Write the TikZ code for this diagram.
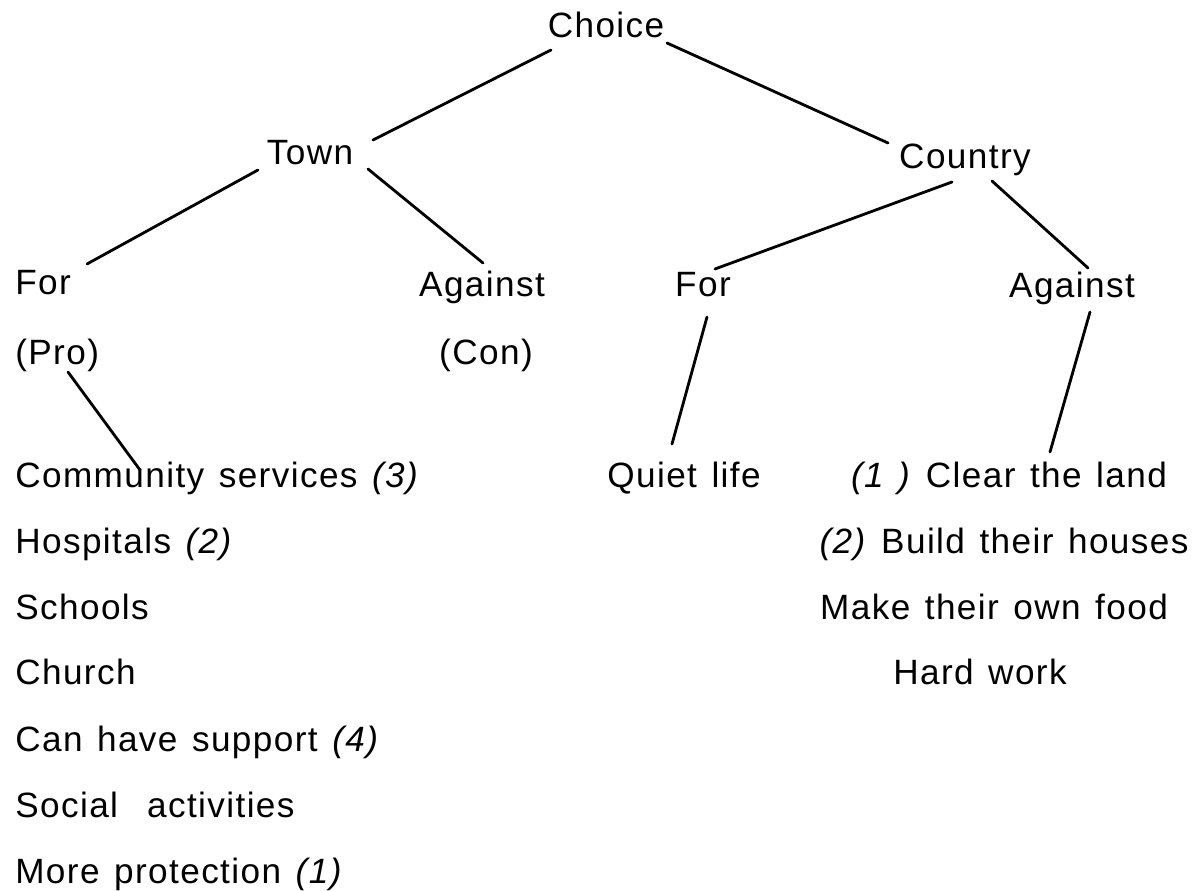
\documentclass[tikz,border=0pt]{standalone}
\usepackage{fontspec}
\setmainfont{Liberation Sans}[LetterSpace=4,WordSpace=1.3]
\usepackage{tikz}
\usetikzlibrary{calc}

\begin{document}
\begin{tikzpicture}[
    x=0.025cm, y=-0.025cm,
    word/.style={inner sep=0pt, anchor=base, font=\fontsize{25}{29}\selectfont},
    leftword/.style={word, anchor=base west},
    branch/.style={line width=2pt, line cap=round}
]
\useasboundingbox (0,0) rectangle (1198,891);

% Top of the tree
\node[word] (choice) at (606,38) {Choice};
\node[word] (town) at (310,165) {Town};
\node[word] (country) at (965,169) {Country};

% Town side
\node[leftword] (forT) at (15,295) {For};
\node[word] (againstT) at (482,297) {Against};
\node[leftword] (pro) at (15,365) {(Pro)};
\node[word] (con) at (486,365) {(Con)};

% Country side
\node[word] (forC) at (703,297) {For};
\node[word] (againstC) at (1072,298) {Against};

% Pro list
\node[leftword] (community) at (15,488) {Community services \textit{(3)}};
\node[leftword] (hospitals) at (15,554) {Hospitals \textit{(2)}};
\node[leftword] (schools) at (15,620) {Schools};
\node[leftword] (church) at (15,685) {Church};
\node[leftword] (support) at (15,751) {Can have support \textit{(4)}};
\node[leftword] (social) at (15,817) {Social \ activities};
\node[leftword] (protection) at (15,883) {More protection \textit{(1)}};

% Country lists
\node[word] (quiet) at (684,488) {Quiet life};
\node[word] (clear) at (1009,488) {\textit{(1 )} Clear the land};
\node[word] (build) at (1004,554) {\textit{(2)} Build their houses};
\node[word] (food) at (994,620) {Make their own food};
\node[word] (hard) at (980,685) {Hard work};

% Branches
\draw[branch] ($(choice.base)+(-55,12)$) -- ($(town.base)+(63,-25)$);
\draw[branch] ($(choice.base)+(61,5)$) -- ($(country.base)+(-77,-26)$);
\draw[branch] ($(town.base)+(-52,5)$) -- ($(forT.base west)+(72,-31)$);
\draw[branch] ($(town.base)+(58,4)$) -- ($(againstT.base)+(1,-34)$);
\draw[branch] ($(country.base)+(-13,13)$) -- ($(forC.base)+(12,-28)$);
\draw[branch] ($(country.base)+(27,12)$) -- ($(againstC.base)+(16,-30)$);
\draw[branch] ($(forC.base)+(4,20)$) -- ($(quiet.base)+(-12,-44)$);
\draw[branch] ($(againstC.base)+(18,14)$) -- ($(clear.base)+(41,-36)$);
\draw[branch] ($(pro.base west)+(53,7)$) -- ($(community.base west)+(125,-18)$);

\end{tikzpicture}
\end{document}
